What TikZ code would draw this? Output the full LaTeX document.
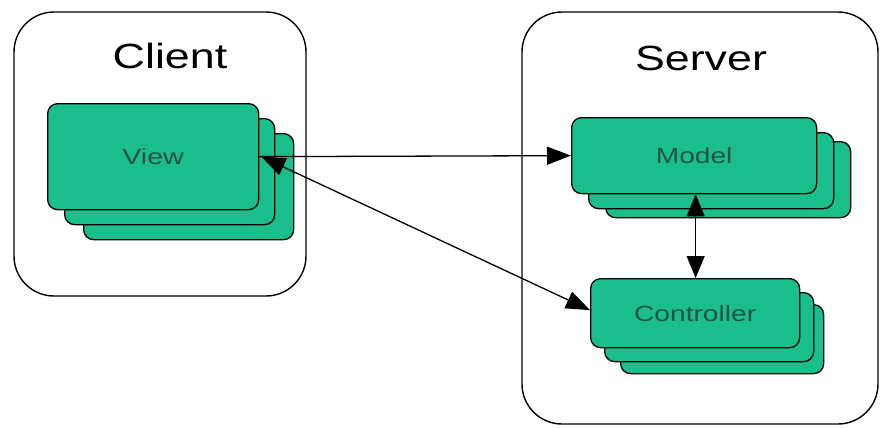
\documentclass[tikz,border=0pt]{standalone}
\usepackage{fontspec}
\setmainfont{Liberation Sans}
\usetikzlibrary{arrows.meta}
\definecolor{cardgreen}{RGB}{26,190,140}
\definecolor{cardtext}{RGB}{38,82,66}
\begin{document}
\begin{tikzpicture}[x=1pt,y=-1pt,
  group/.style={draw=black, line width=1.4pt, rounded corners=40pt},
  card/.style={draw=black, fill=cardgreen, line width=1.3pt, rounded corners=10pt, anchor=north west, inner sep=0pt},
  title/.style={font=\fontsize{35}{35}\selectfont, text=black},
  lbl/.style={text=cardtext, font=\fontsize{22}{22}\selectfont},
  link/.style={line width=1.3pt}]
\useasboundingbox (0,0) rectangle (881,428);
% groups
\draw[group] (14,12) rectangle (306,296);
\draw[group] (522,12) rectangle (878,424);
\node[title] (client) at (170,56) {\scalebox{1.28}[1]{Client}};
\node[title] (server) at (701,58) {\scalebox{1.28}[1]{Server}};
% View stack
\node[card, minimum width=210pt, minimum height=106pt] (view3) at (83,133) {};
\node[card, minimum width=210pt, minimum height=106pt] (view2) at (64,118) {};
\node[card, minimum width=211pt, minimum height=106pt] (view) at (47,103) {};
\node[lbl] (viewlbl) at (view.center) {\scalebox{1.3}[1]{View}};
% Model stack
\node[card, minimum width=245pt, minimum height=76pt] (model3) at (605,141) {};
\node[card, minimum width=245pt, minimum height=76pt] (model2) at (588,132) {};
\node[card, minimum width=245pt, minimum height=76pt] (model) at (571,117) {};
\node[lbl] (modellbl) at (model.center) {\scalebox{1.28}[1]{Model}};
% Controller stack
\node[card, minimum width=203pt, minimum height=69pt] (ctrl3) at (620,304) {};
\node[card, minimum width=209pt, minimum height=69pt] (ctrl2) at (604,292) {};
\node[card, minimum width=209pt, minimum height=69pt] (ctrl) at (590,278) {};
\node[lbl] (ctrllbl) at (ctrl.center) {\scalebox{1.28}[1]{Controller}};
% connectors
\draw[link, -{Triangle[length=24pt,width=18pt]}] (view.east) -- (model.west);
\draw[link, {Triangle[length=24pt,width=18pt]}-{Triangle[length=24pt,width=18pt]}] ([xshift=2pt]view.east) -- ([yshift=3pt]ctrl.west);
\draw[link, {Triangle[length=22pt,width=18pt]}-{Triangle[length=22pt,width=18pt]}] ([xshift=1.5pt]model.south) -- ([xshift=1.5pt]model.south |- ctrl.north);
\end{tikzpicture}
\end{document}
